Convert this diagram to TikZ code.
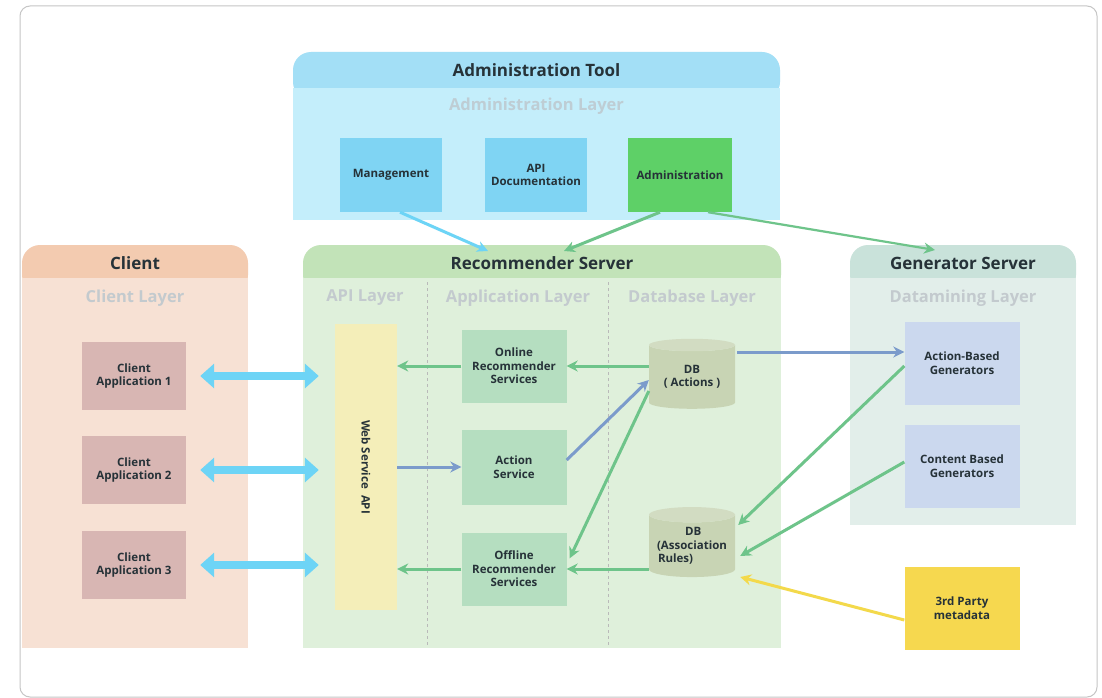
\documentclass[tikz,border=0pt]{standalone}
\usepackage{fontspec}
\setmainfont{Open Sans}
\usetikzlibrary{shapes.geometric,arrows.meta,calc}
\definecolor{txt}{HTML}{263238}
\definecolor{layertxt}{HTML}{C3CACE}
\definecolor{admhdr}{HTML}{A3DFF6}
\definecolor{admbody}{HTML}{C4EEFB}
\definecolor{admbox}{HTML}{7FD4F3}
\definecolor{admgreen}{HTML}{5ED067}
\definecolor{clihdr}{HTML}{F3CBB0}
\definecolor{clibody}{HTML}{F7E1D4}
\definecolor{clibox}{HTML}{D8B6B3}
\definecolor{rechdr}{HTML}{C2E3B8}
\definecolor{recbody}{HTML}{DFF0DB}
\definecolor{recbox}{HTML}{B5DEC0}
\definecolor{wsyellow}{HTML}{F4EEB9}
\definecolor{dbfill}{HTML}{C8D4B4}
\definecolor{dbtop}{HTML}{D2DCC2}
\definecolor{genhdr}{HTML}{C9E2DA}
\definecolor{genbody}{HTML}{E2EEEA}
\definecolor{genbox}{HTML}{CBD8EE}
\definecolor{tpyellow}{HTML}{F6D84F}
\definecolor{arrgreen}{HTML}{6EC48A}
\definecolor{arrblue}{HTML}{7B9BCB}
\definecolor{arrlblue}{HTML}{6DD4F6}
\definecolor{arryellow}{HTML}{F3D94B}
\tikzset{
  hdrbox/.style={draw=none, rounded corners=18pt, minimum height=48pt, inner sep=0pt},
  bodybox/.style={draw=none, inner sep=0pt},
  hdrtext/.style={font=\bfseries\fontsize{17}{19}\selectfont, text=txt, inner sep=0pt},
  layertext/.style={font=\bfseries\fontsize{16.5}{18}\selectfont, text=layertxt, inner sep=0pt},
  smallbox/.style={draw=none, inner sep=1pt, align=center, text=txt,
    font=\bfseries\fontsize{11.5}{13.5}\selectfont},
  dbcyl/.style={cylinder, shape border rotate=90, aspect=0.22, draw=none,
    cylinder uses custom fill, cylinder body fill=dbfill, cylinder end fill=dbtop,
    minimum width=86pt, minimum height=70pt, inner sep=0pt, align=center, text=txt,
    font=\bfseries\fontsize{11.5}{13.5}\selectfont},
  garrow/.style={draw=arrgreen, line width=3pt, -{Stealth[length=11pt,width=11pt]}},
  barrow/.style={draw=arrblue, line width=3pt, -{Stealth[length=11pt,width=11pt]}},
  lbarrow/.style={draw=arrlblue, line width=3pt, -{Stealth[length=11pt,width=11pt]}},
  yarrow/.style={draw=arryellow, line width=3pt, -{Stealth[length=11pt,width=11pt]}},
  dblarrow/.style={draw=arrlblue, line width=7.5pt,
    {Triangle[length=14pt,width=24pt]}-{Triangle[length=14pt,width=24pt]}},
  divider/.style={draw=gray!55, dashed, line width=0.6pt}
}
\begin{document}
\begin{tikzpicture}[x=1pt,y=-1pt]
\useasboundingbox (0,0) rectangle (1102,698);
\fill[white] (0,0) rectangle (1102,698);
\draw[gray!45, line width=1pt, rounded corners=10pt] (20,6) rectangle (1097,697);

% ---------- Administration Tool ----------
\node[hdrbox, fill=admhdr, minimum width=487pt] (admhdr) at (536.5,76) {};
\node[bodybox, fill=admbody, minimum width=487pt, minimum height=132pt] (admbody) at (536.5,154) {};
\node[hdrtext] (admtitle) at (536.5,70) {Administration Tool};
\node[layertext, text=layertxt!85!admhdr] (admlayer) at (536.5,106) {Administration Layer};
\node[smallbox, fill=admbox, minimum width=102pt, minimum height=74pt] (mgmt) at (391,175) {Management};
\node[smallbox, fill=admbox, minimum width=102pt, minimum height=74pt] (apidoc) at (536,175) {API\\Documentation};
\node[smallbox, fill=admgreen, minimum width=104pt, minimum height=74pt] (admin) at (680,175) {Administration};

% ---------- Client ----------
\node[hdrbox, fill=clihdr, minimum width=226pt] (clihdr) at (135,269) {};
\node[bodybox, fill=clibody, minimum width=226pt, minimum height=370pt] (clibody) at (135,463) {};
\node[hdrtext] (clititle) at (135,263) {Client};
\node[layertext] (clilayer) at (135,298) {Client Layer};
\node[smallbox, fill=clibox, minimum width=104pt, minimum height=68pt] (app1) at (134,376) {Client\\Application 1};
\node[smallbox, fill=clibox, minimum width=104pt, minimum height=68pt] (app2) at (134,470) {Client\\Application 2};
\node[smallbox, fill=clibox, minimum width=104pt, minimum height=68pt] (app3) at (134,565) {Client\\Application 3};

% ---------- Recommender Server ----------
\node[hdrbox, fill=rechdr, minimum width=478pt] (rechdr) at (542,269) {};
\node[bodybox, fill=recbody, minimum width=478pt, minimum height=370pt] (recbody) at (542,463) {};
\node[hdrtext] (rectitle) at (542,263) {Recommender Server};
\coordinate (d1top) at (427,282);
\coordinate (d1bot) at (427,645);
\coordinate (d2top) at (608,282);
\coordinate (d2bot) at (608,645);
\draw[divider] (d1top) -- (d1bot);
\draw[divider] (d2top) -- (d2bot);
\node[layertext] (apilayer) at (365,298) {API Layer};
\node[layertext] (applayer) at (518,298) {Application Layer};
\node[layertext] (dblayer) at (692,298) {Database Layer};
\node[smallbox, fill=wsyellow, minimum width=62pt, minimum height=286pt] (ws) at (366,467) {};
\node[text=txt, font=\bfseries\fontsize{11.5}{13.5}\selectfont, rotate=-90] (wstext) at (ws.center) {Web Service\ \ API};
\node[smallbox, fill=recbox, minimum width=105pt, minimum height=73pt] (onl) at (514,366) {Online\\Recommender\\Services};
\node[smallbox, fill=recbox, minimum width=105pt, minimum height=75pt] (act) at (514,467) {Action\\Service};
\node[smallbox, fill=recbox, minimum width=105pt, minimum height=73pt] (off) at (514,569) {Offline\\Recommender\\Services};
\node[dbcyl] (dba) at (692,377) {DB\\( Actions )};
\node[dbcyl, align=left] (dbr) at (692,546) {\hspace*{28pt}DB\\(Association\\\hspace*{1pt}Rules)};

% ---------- Generator Server ----------
\node[hdrbox, fill=genhdr, minimum width=226pt] (genhdr) at (963,269) {};
\node[bodybox, fill=genbody, minimum width=226pt, minimum height=247pt] (genbody) at (963,401.5) {};
\node[hdrtext] (gentitle) at (963,263) {Generator Server};
\node[layertext] (genlayer) at (963,298) {Datamining Layer};
\node[smallbox, fill=genbox, minimum width=115pt, minimum height=83pt] (abg) at (962,363) {Action-Based\\Generators};
\node[smallbox, fill=genbox, minimum width=115pt, minimum height=83pt] (cbg) at (962,466) {Content Based\\Generators};
\node[smallbox, fill=tpyellow, minimum width=115pt, minimum height=83pt] (tp) at (962,608) {3rd Party\\metadata};

% ---------- connectors ----------
\coordinate (recin1) at (488,251);
\coordinate (recin2) at (564,251);
\coordinate (genin) at (935,250);
\draw[lbarrow] ([xshift=9pt]mgmt.south) -- (recin1);
\draw[garrow] ([xshift=-20pt]admin.south) -- (recin2);
\draw[garrow, line width=2.2pt] ([xshift=28pt]admin.south) -- (genin);

\draw[dblarrow] ([xshift=14pt]app1.east) -- ([xshift=-16pt]ws.west |- app1.east);
\draw[dblarrow] ([xshift=14pt]app2.east) -- ([xshift=-16pt]ws.west |- app2.east);
\draw[dblarrow] ([xshift=14pt]app3.east) -- ([xshift=-16pt]ws.west |- app3.east);

\draw[garrow] (dba.west |- onl.east) -- (onl.east);
\draw[garrow] (onl.west) -- (onl.west -| ws.east);
\draw[barrow] (ws.east |- act.west) -- (act.west);
\draw[barrow] ([yshift=7pt]act.east) -- ([yshift=-3pt]dba.west);
\draw[garrow] ([yshift=-14pt]dba.west) -- ([xshift=3pt,yshift=-26pt]off.north east);
\draw[garrow] (dbr.west |- off.east) -- (off.east);
\draw[garrow] (off.west) -- (off.west -| ws.east);
\draw[barrow] ([xshift=2pt,yshift=25pt]dba.east) -- ([yshift=25pt]dba.east -| abg.west);
\draw[garrow] ([yshift=-3pt]abg.west) -- ([xshift=3pt,yshift=21pt]dbr.east);
\draw[garrow] ([yshift=4pt]cbg.west) -- ([xshift=5pt,yshift=-10pt]dbr.east);
\draw[yarrow] ([yshift=-12pt]tp.west) -- ([xshift=5pt,yshift=-31pt]dbr.east);
\end{tikzpicture}
\end{document}
